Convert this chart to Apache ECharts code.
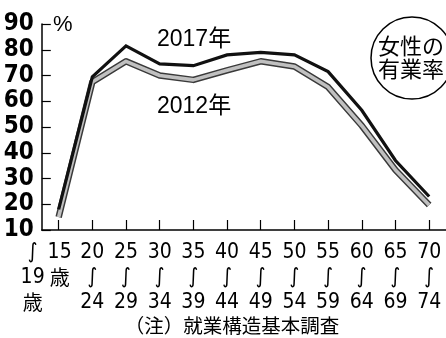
<!DOCTYPE html>
<html>
<head>
<meta charset="utf-8">
<script src="https://cdn.jsdelivr.net/npm/echarts@6/dist/echarts.min.js"></script>
<style>
html,body{margin:0;padding:0;background:#fff;}
#c{width:446px;height:338px;}
</style>
</head>
<body>
<div id="c"></div>
<script>
// ---- data ----
const ageFrom = ['15','20','25','30','35','40','45','50','55','60','65','70'];
const ageTo   = ['19','24','29','34','39','44','49','54','59','64','69','74'];
const categories = ageFrom.map((a, i) => a + '～' + ageTo[i]);
const rate2017 = [18, 69.5, 81.5, 74.5, 73.8, 78, 79, 78, 71.5, 56.5, 37, 23];
const rate2012 = [15, 67.5, 75.5, 70, 68.3, 72, 75.5, 73.5, 65.5, 50.5, 33.3, 19.7];
const yTicks = [10, 20, 30, 40, 50, 60, 70, 80, 90];
const seriesNames = ['2017年', '2012年'];
const unitLabel = '%';
const badgeLines = ['女性の', '有業率'];
const noteText = '（注）就業構造基本調査';

const NARROW = "'Liberation Sans Narrow','DejaVu Sans Condensed','Noto Sans CJK JP',sans-serif";
const SANS = "'Liberation Sans','Noto Sans CJK JP',sans-serif";
const CJK = "'Noto Sans CJK JP',sans-serif";

const chart = echarts.init(document.getElementById('c'), null, {renderer: 'canvas'});
const lblBase = {fontFamily: NARROW, fontSize: 21, lineHeight: 25, color: '#000'};
const cjkBase = {fontFamily: CJK, fontSize: 20, lineHeight: 25, color: '#000'};

chart.setOption({
  animation: false,
  backgroundColor: '#fff',
  grid: {left: 41.8, right: -8.1, top: 24, bottom: 108, containLabel: false},
  xAxis: {
    type: 'category',
    data: categories,
    boundaryGap: true,
    axisLine: {lineStyle: {color: '#000', width: 1.5}},
    axisTick: {show: true, inside: true, length: 10, alignWithLabel: true, lineStyle: {color: '#000', width: 1.2}},
    splitLine: {show: false},
    axisLabel: {
      interval: 0,
      margin: 10,
      color: '#000',
      fontFamily: NARROW,
      fontSize: 21,
      lineHeight: 25,
      formatter: function (v, i) {
        if (i === 0) {
          return '{l|∫}{r|' + ageFrom[0] + '}{p| }\n{l|' + ageTo[0] + '}{rc|歳}{p| }\n{lc|歳}{r| }{p| }';
        }
        return '{c|' + ageFrom[i] + '}\n{c|∫}\n{c|' + ageTo[i] + '}';
      },
      rich: {
        l: Object.assign({width: 28, align: 'center'}, lblBase),
        r: Object.assign({width: 26, align: 'center'}, lblBase),
        lc: Object.assign({width: 28, align: 'center'}, cjkBase),
        rc: Object.assign({width: 26, align: 'center'}, cjkBase),
        p: Object.assign({width: 26}, lblBase),
        c: Object.assign({align: 'center'}, lblBase)
      }
    }
  },
  yAxis: {
    type: 'value',
    min: yTicks[0],
    max: yTicks[yTicks.length - 1],
    interval: 10,
    axisLine: {show: true, lineStyle: {color: '#000', width: 1.5}},
    axisTick: {show: true, inside: true, length: 9, lineStyle: {color: '#000', width: 1.2}},
    splitLine: {show: false},
    axisLabel: {
      margin: 8,
      color: '#000',
      fontFamily: NARROW,
      fontSize: 24,
      fontWeight: 'bold'
    }
  },
  series: [
    {
      name: seriesNames[1] + '_outline',
      type: 'line',
      data: rate2012,
      symbol: 'none',
      z: 2,
      lineStyle: {color: '#3a3a3a', width: 6.5, join: 'round'}
    },
    {
      name: seriesNames[1],
      type: 'line',
      data: rate2012,
      symbol: 'none',
      z: 3,
      lineStyle: {color: '#c0c0c0', width: 3.6, join: 'round'}
    },
    {
      name: seriesNames[0],
      type: 'line',
      data: rate2017,
      symbol: 'none',
      z: 4,
      lineStyle: {color: '#111', width: 3.2, join: 'miter'}
    }
  ],
  graphic: [
    {type: 'text', left: 53, top: 14, style: {text: unitLabel, font: '22px ' + SANS, fill: '#000'}},
    {type: 'text', left: 157, top: 28, style: {text: seriesNames[0], font: '23px ' + SANS, fill: '#000'}},
    {type: 'text', left: 157, top: 95, style: {text: seriesNames[1], font: '23px ' + SANS, fill: '#000'}},
    {type: 'circle', shape: {cx: 412, cy: 58, r: 41}, style: {fill: '#fff', stroke: '#000', lineWidth: 1.5}, z: 10},
    {type: 'text', x: 411, y: 46, z: 11, style: {text: badgeLines[0], font: '22px ' + CJK, fill: '#000', textAlign: 'center', textVerticalAlign: 'middle'}},
    {type: 'text', x: 411, y: 69, z: 11, style: {text: badgeLines[1], font: '22px ' + CJK, fill: '#000', textAlign: 'center', textVerticalAlign: 'middle'}},
    {type: 'text', x: 232, y: 326, style: {text: noteText, font: '19.5px ' + CJK, fill: '#000', textAlign: 'center', textVerticalAlign: 'middle'}}
  ]
});
</script>
</body>
</html>
